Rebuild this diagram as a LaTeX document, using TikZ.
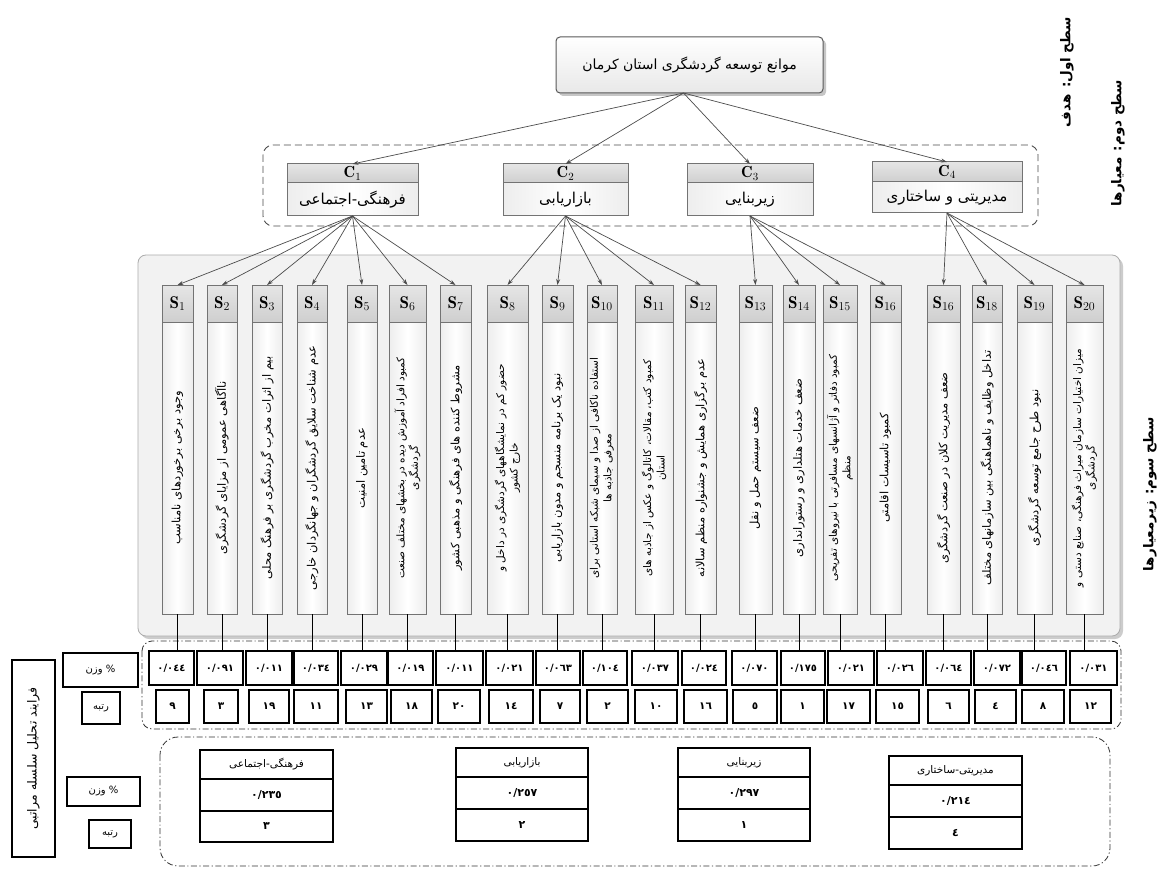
\documentclass[tikz,border=0pt]{standalone}
\usepackage{fontspec}
\usetikzlibrary{arrows.meta,calc}
\TeXXeTstate=1
\newfontfamily\fa[Script=Arabic]{DejaVu Sans}
\newcommand\fat[1]{{\fa\beginR #1\endR}}
\newcommand\boxnode[7]{\node[#1, minimum width={#5pt-#3pt}, minimum height={#6pt-#4pt}] (#2) at ({(#3+#5)/2},{(#4+#6)/2}) {#7};}
\tikzset{
  goalbox/.style={draw=black!65, line width=1pt, rounded corners=4pt, top color=white, bottom color=gray!18, inner sep=0pt, outer sep=0pt, font=\fontsize{14}{16}\selectfont},
  shead/.style={draw=black!55, line width=1pt, top color=gray!20, bottom color=gray!38, inner sep=0pt, outer sep=0pt},
  sbody/.style={draw=black!55, line width=1pt, left color=gray!14, right color=gray!14, middle color=white, inner sep=0pt, outer sep=0pt},
  stext/.style={rotate=90, align=center, inner sep=0pt, font=\fontsize{11.5}{12.5}\selectfont},
  stexttwo/.style={rotate=90, align=center, inner sep=0pt, font=\fontsize{10.5}{13.5}\selectfont},
  arr/.style={-{Stealth[length=6pt,width=4pt]}, draw=black!70, line width=0.7pt},
  conn/.style={draw=black, line width=1pt},
  cell/.style={draw=black, line width=1.3pt, fill=white, inner sep=0pt, outer sep=0pt},
  dashdot/.style={draw=black!80, line width=0.8pt, dash pattern=on 6pt off 2.5pt on 1.2pt off 2.5pt},
  lvl/.style={rotate=90, inner sep=0pt, font=\bfseries\fontsize{13.5}{15}\selectfont},
}
\newcommand\scol[6]{%
  \boxnode{shead}{h#1}{#3}{285}{#4}{322}{\fontsize{17}{19}\selectfont$\mathbf{S}_{#2}$}
  \boxnode{sbody}{b#1}{#3}{322}{#4}{614}{}
  \node[#5] at (b#1.center) {#6};}
\newcommand\cbox[8]{%
  \boxnode{shead}{#1h}{#3}{#5}{#4}{#6}{\fontsize{16}{17}\selectfont$\mathbf{C}_{#2}$}
  \boxnode{sbody}{#1b}{#3}{#6}{#4}{#7}{\fontsize{15}{16}\selectfont #8}}
\newcommand\wcell[4]{\boxnode{cell}{w#1}{#2}{651}{#3}{685}{\bfseries\fontsize{10}{11}\selectfont\fa #4}}
\newcommand\rcell[4]{\boxnode{cell}{r#1}{#2}{690}{#3}{723}{\bfseries\fontsize{10.5}{11}\selectfont\fa #4}}
\begin{document}
\begin{tikzpicture}[x=1pt,y=-1pt]
\useasboundingbox (0,0) rectangle (1159,869);
\fill[white] (0,0) rectangle (1159,869);

% level labels
\node[lvl] (l1) at (1067,72) {\fat{سطح اول: هدف}};
\node[lvl] (l2) at (1118,143) {\fat{سطح دوم: معیارها}};
\node[lvl] (l3) at (1150,494) {\fat{سطح سوم: زیرمعیارها}};

% goal
\fill[gray!45, rounded corners=4pt] (559,40) rectangle (826,96);
\boxnode{goalbox}{goal}{556}{37}{823}{93}{\fat{موانع توسعه گردشگری استان کرمان}}
\coordinate (gs) at ([xshift=-6pt]goal.south);

% criteria
\draw[dashed, dash pattern=on 7pt off 4pt, draw=black!70, line width=0.9pt, rounded corners=10pt] (263,145) rectangle (1038,226);
\cbox{c1}{1}{287}{418}{164}{183}{216}{\fat{فرهنگی-اجتماعی}}
\cbox{c2}{2}{503}{628}{164}{183}{216}{\fat{بازاریابی}}
\cbox{c3}{3}{687}{813}{164}{183}{216}{\fat{زیربنایی}}
\cbox{c4}{4}{872}{1022}{162}{182}{213}{\fat{مدیریتی و ساختاری}}
\foreach \c in {c1,c2,c3,c4} \draw[arr] (gs) -- (\c h.north);

% sub-criteria panel
\fill[gray!40, rounded corners=8pt] (141,258) rectangle (1123,639);
\draw[draw=gray!65, fill=gray!10, line width=0.8pt, rounded corners=8pt] (138,255) rectangle (1120,636);

\scol{1}{1}{162}{193}{stext}{\fat{وجود برخی برخوردهای نامناسب}}
\scol{2}{2}{207}{237}{stext}{\fat{ناآگاهی عمومی از مزایای گردشگری}}
\scol{3}{3}{252}{282}{stext}{\fat{بیم از اثرات مخرب گردشگری بر فرهنگ محلی}}
\scol{4}{4}{297}{327}{stext}{\fat{عدم شناخت سلایق گردشگران و جهانگردان خارجی}}
\scol{5}{5}{347}{377}{stext}{\fat{عدم تامین امنیت}}
\scol{6}{6}{389}{426}{stexttwo}{\fat{کمبود افراد آموزش دیده در بخشهای مختلف صنعت}\\\fat{گردشگری}}
\scol{7}{7}{440}{471}{stext}{\fat{مشروط کننده های فرهنگی و مذهبی کشور}}
\scol{8}{8}{487}{528}{stexttwo}{\fat{حضور کم در نمایشگاههای گردشگری در داخل و}\\\fat{خارج کشور}}
\scol{9}{9}{542}{573}{stext}{\fat{نبود یک برنامه منسجم و مدون بازاریابی}}
\scol{10}{10}{587}{617}{stexttwo}{\fat{استفاده ناکافی از صدا و سیمای شبکه استانی برای}\\\fat{معرفی جاذبه ها}}
\scol{11}{11}{635}{673}{stexttwo}{\fat{کمبود کتب، مقالات، کاتالوگ و عکس از جاذبه های}\\\fat{استان}}
\scol{12}{12}{685}{716}{stext}{\fat{عدم برگزاری همایش و جشنواره منظم سالانه}}
\scol{13}{13}{739}{772}{stext}{\fat{ضعف سیستم حمل و نقل}}
\scol{14}{14}{783}{815}{stext}{\fat{ضعف خدمات هتلداری و رستورانداری}}
\scol{15}{15}{823}{857}{stexttwo}{\fat{کمبود دفاتر و آژانسهای مسافرتی با نیروهای تفریحی}\\\fat{منظم}}
\scol{16}{16}{870}{901}{stext}{\fat{کمبود تاسیسات اقامتی}}
\scol{17}{16}{927}{960}{stext}{\fat{ضعف مدیریت کلان در صنعت گردشگری}}
\scol{18}{18}{972}{1002}{stext}{\fat{تداخل وظایف و ناهماهنگی بین سازمانهای مختلف}}
\scol{19}{19}{1017}{1052}{stext}{\fat{نبود طرح جامع توسعه گردشگری}}
\scol{20}{20}{1066}{1103}{stexttwo}{\fat{میزان اختیارات سازمان میراث فرهنگی، صنایع دستی و}\\\fat{گردشگری}}

\foreach \i in {1,...,7} \draw[arr] (c1b.south) -- (h\i.north);
\foreach \i in {8,...,12} \draw[arr] (c2b.south) -- (h\i.north);
\foreach \i in {13,...,16} \draw[arr] (c3b.south) -- (h\i.north);
\foreach \i in {17,...,20} \draw[arr] (c4b.south) -- (h\i.north);

% weights and ranks
\draw[dashdot, rounded corners=10pt] (142,641) rectangle (1121,729);
\wcell{1}{149}{194}{٠/٠٤٤}
\wcell{2}{197}{243}{٠/٠٩١}
\wcell{3}{246}{292}{٠/٠١١}
\wcell{4}{294}{338}{٠/٠٣٤}
\wcell{5}{341}{387}{٠/٠٢٩}
\wcell{6}{388}{433}{٠/٠١٩}
\wcell{7}{436}{483}{٠/٠١١}
\wcell{8}{486}{533}{٠/٠٢١}
\wcell{9}{536}{580}{٠/٠٦٣}
\wcell{10}{583}{627}{٠/١٠٤}
\wcell{11}{632}{678}{٠/٠٣٧}
\wcell{12}{682}{726}{٠/٠٢٤}
\wcell{13}{732}{777}{٠/٠٧٠}
\wcell{14}{781}{825}{٠/١٧٥}
\wcell{15}{828}{874}{٠/٠٢١}
\wcell{16}{877}{923}{٠/٠٢٦}
\wcell{17}{926}{971}{٠/٠٦٤}
\wcell{18}{974}{1020}{٠/٠٧٢}
\wcell{19}{1022}{1066}{٠/٠٤٦}
\wcell{20}{1070}{1117}{٠/٠٣١}
\rcell{1}{156}{189}{٩}
\rcell{2}{204}{238}{٣}
\rcell{3}{249}{289}{١٩}
\rcell{4}{294}{338}{١١}
\rcell{5}{346}{387}{١٣}
\rcell{6}{391}{432}{١٨}
\rcell{7}{438}{480}{٢٠}
\rcell{8}{489}{533}{١٤}
\rcell{9}{540}{580}{٧}
\rcell{10}{587}{628}{٢}
\rcell{11}{635}{677}{١٠}
\rcell{12}{684}{727}{١٦}
\rcell{13}{733}{777}{٥}
\rcell{14}{781}{824}{١}
\rcell{15}{827}{870}{١٧}
\rcell{16}{876}{919}{١٥}
\rcell{17}{928}{969}{٦}
\rcell{18}{975}{1016}{٤}
\rcell{19}{1022}{1064}{٨}
\rcell{20}{1070}{1111}{١٢}
\foreach \i in {1,...,20} \draw[conn] (b\i.south) -- (b\i.south |- w\i.north);

% left labels
\boxnode{cell}{ahp}{12}{660}{55}{857}{}
\node[rotate=90, font=\fontsize{12.5}{14}\selectfont] at (ahp.center) {\fat{فرایند تحلیل سلسله مراتبی}};
\boxnode{cell}{wl1}{63}{653}{138}{687}{\fontsize{10}{11}\selectfont\fat{\% وزن}}
\boxnode{cell}{rl1}{82}{692}{120}{724}{\fontsize{10}{11}\selectfont\fat{رتبه}}
\boxnode{cell}{wl2}{67}{777}{140}{806}{\fontsize{10}{11}\selectfont\fat{\% وزن}}
\boxnode{cell}{rl2}{89}{820}{131}{848}{\fontsize{10}{11}\selectfont\fat{رتبه}}

% bottom summary
\draw[dashdot, rounded corners=18pt] (160,737) rectangle (1110,866);
\boxnode{cell}{t1a}{200}{750}{333}{779}{\fontsize{10.5}{12}\selectfont\fat{فرهنگی-اجتماعی}}
\boxnode{cell}{t1b}{200}{779}{333}{811}{\bfseries\fontsize{11}{12}\selectfont\fa ٠/٢٣٥}
\boxnode{cell}{t1c}{200}{811}{333}{842}{\bfseries\fontsize{11}{12}\selectfont\fa ٣}
\boxnode{cell}{t2a}{456}{748}{588}{777}{\fontsize{10.5}{12}\selectfont\fat{بازاریابی}}
\boxnode{cell}{t2b}{456}{777}{588}{809}{\bfseries\fontsize{11}{12}\selectfont\fa ٠/٢٥٧}
\boxnode{cell}{t2c}{456}{809}{588}{841}{\bfseries\fontsize{11}{12}\selectfont\fa ٢}
\boxnode{cell}{t3a}{678}{748}{810}{777}{\fontsize{10.5}{12}\selectfont\fat{زیربنایی}}
\boxnode{cell}{t3b}{678}{777}{810}{809}{\bfseries\fontsize{11}{12}\selectfont\fa ٠/٢٩٧}
\boxnode{cell}{t3c}{678}{809}{810}{841}{\bfseries\fontsize{11}{12}\selectfont\fa ١}
\boxnode{cell}{t4a}{889}{756}{1022}{785}{\fontsize{10.5}{12}\selectfont\fat{مدیریتی-ساختاری}}
\boxnode{cell}{t4b}{889}{785}{1022}{817}{\bfseries\fontsize{11}{12}\selectfont\fa ٠/٢١٤}
\boxnode{cell}{t4c}{889}{817}{1022}{849}{\bfseries\fontsize{11}{12}\selectfont\fa ٤}
\end{tikzpicture}
\end{document}
